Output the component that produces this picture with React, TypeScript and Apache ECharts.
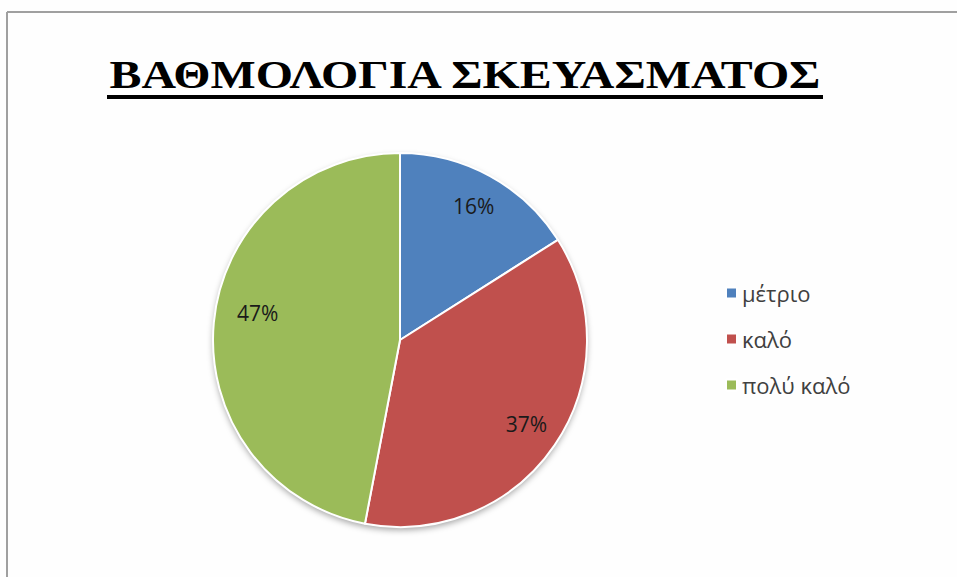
import React, { useEffect, useRef } from "react";
import * as echarts from "echarts";

const TITLE = "ΒΑΘΜΟΛΟΓΙΑ ΣΚΕΥΑΣΜΑΤΟΣ";
const categories = ["μέτριο", "καλό", "πολύ καλό"];
const values = [16, 37, 47];
const colors = ["#4F81BD", "#C0504D", "#9BBB59"];
const labelOffsets = [[0, 0], [0, -2], [10, -13]];

export default function App() {
  const ref = useRef<HTMLDivElement>(null);
  useEffect(() => {
    if (!ref.current) return;
    const chart = echarts.init(ref.current, null, { renderer: "svg" });
    const data = categories.map((name, i) => ({
      name,
      value: values[i],
      itemStyle: { color: colors[i] },
    }));
    chart.setOption({
      animation: false,
      backgroundColor: "#fefefe",
      graphic: [
        { type: "line", shape: { x1: 7, y1: 12, x2: 957, y2: 12 }, style: { stroke: "#a0a0a0", lineWidth: 2 } },
        { type: "line", shape: { x1: 7, y1: 12, x2: 7, y2: 577 }, style: { stroke: "#a0a0a0", lineWidth: 2 } },
        {
          type: "text",
          x: 465,
          y: 95,
          scaleX: 1.168,
          originX: 0,
          style: {
            text: TITLE,
            font: "bold 41px 'Liberation Serif', 'DejaVu Serif', serif",
            fill: "#000",
            textAlign: "center",
            textVerticalAlign: "bottom",
          },
        },
        { type: "rect", shape: { x: 107, y: 95, width: 716, height: 4 }, style: { fill: "#000" } },
      ],
      legend: {
        orient: "vertical",
        left: 720,
        top: 277,
        itemWidth: 11,
        itemHeight: 11,
        itemGap: 24,
        icon: "rect",
        data: categories,
        textStyle: { fontFamily: "'Open Sans', 'Noto Sans', sans-serif", fontSize: 22, color: "#404040", padding: [0, 0, 0, 0] },
      },
      series: [
        {
          type: "pie",
          center: [400, 340],
          radius: 187,
          silent: true,
          data: [{ value: 1, itemStyle: { color: "#fff", shadowBlur: 6, shadowOffsetY: 3, shadowColor: "rgba(0,0,0,0.35)" } }],
          label: { show: false },
          labelLine: { show: false },
          z: 1,
        },
        {
          type: "pie",
          center: [400, 340],
          radius: 187,
          startAngle: 90,
          clockwise: true,
          data,
          itemStyle: { borderColor: "#fff", borderWidth: 2 },
          label: { show: false },
          labelLine: { show: false },
          z: 2,
        },
        {
          type: "pie",
          center: [400, 340],
          radius: [113, 187],
          startAngle: 90,
          clockwise: true,
          silent: true,
          data: categories.map((name, i) => ({
            name,
            value: values[i],
            itemStyle: { color: "rgba(0,0,0,0)" },
            label: { offset: labelOffsets[i] },
          })),
          itemStyle: { borderWidth: 0 },
          label: {
            show: true,
            position: "inside",
            formatter: "{d}%",
            fontFamily: "'Open Sans', 'Noto Sans', sans-serif",
            fontSize: 21,
            color: "#1a1a1a",
          },
          labelLine: { show: false },
          z: 3,
        },
      ],
    });
    return () => chart.dispose();
  }, []);
  return <div ref={ref} style={{ position: "fixed", left: 0, top: 0, width: 957, height: 577 }} />;
}
